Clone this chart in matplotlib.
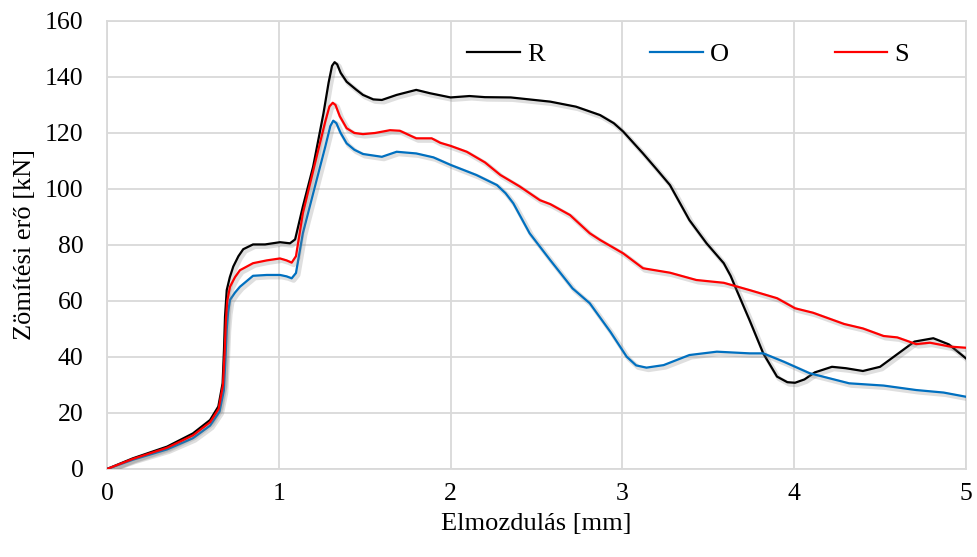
import matplotlib
matplotlib.use("Agg")
import matplotlib.pyplot as plt
import matplotlib.patheffects as pe

plt.rcParams['font.family'] = ['Liberation Serif', 'DejaVu Serif']

# Displacement [mm] and force [kN] for each specimen
R_x = [0, 0.15, 0.35, 0.5, 0.6, 0.648, 0.673, 0.681, 0.687, 0.697, 0.715, 0.735, 0.765, 0.793,
       0.85, 0.92, 1.007, 1.065, 1.095, 1.14, 1.20, 1.26, 1.29, 1.31, 1.325, 1.34, 1.36, 1.395,
       1.45, 1.49, 1.55, 1.60, 1.686, 1.80, 1.88, 2.0, 2.11, 2.2, 2.35, 2.58, 2.73, 2.87, 2.95,
       3.005, 3.12, 3.2, 3.277, 3.39, 3.49, 3.59, 3.63, 3.665, 3.74, 3.82, 3.90, 3.96, 4.005,
       4.06, 4.12, 4.22, 4.30, 4.40, 4.5, 4.6, 4.7, 4.81, 4.9, 5.0]
R_y = [0, 3.8, 8, 12.7, 17.5, 22.3, 30.6, 42.5, 54.4, 63.9, 68.5, 72.3, 76, 78.5,
       80.2, 80.2, 81.0, 80.6, 82, 93.7, 108, 127, 138, 144, 145.3, 144.5, 141.5, 138.3,
       135.5, 133.6, 132, 131.8, 133.6, 135.4, 134.2, 132.7, 133.2, 132.8, 132.7, 131.2, 129.4, 126.4, 123.5,
       120.5, 112.7, 107, 101.4, 88.9, 80.6, 73.5, 69, 63.9, 53.2, 41.3, 33, 31, 30.8,
       32, 34.5, 36.5, 36, 35, 36.5, 41, 45.5, 46.7, 44.5, 39.5]

O_x = [0, 0.15, 0.35, 0.5, 0.6, 0.655, 0.68, 0.69, 0.697, 0.705, 0.716, 0.745, 0.774, 0.85,
       0.93, 1.007, 1.045, 1.075, 1.10, 1.14, 1.22, 1.27, 1.30, 1.317, 1.335, 1.36, 1.395, 1.44,
       1.49, 1.60, 1.686, 1.80, 1.90, 2.0, 2.15, 2.27, 2.32, 2.365, 2.46, 2.58, 2.71, 2.81, 2.93,
       3.025, 3.08, 3.14, 3.24, 3.39, 3.55, 3.74, 3.82, 3.94, 4.09, 4.32, 4.52, 4.71, 4.87, 5.0]
O_y = [0, 3.3, 7, 11, 15.5, 20.5, 28, 40, 50, 56, 60.4, 63, 65.1, 69,
       69.3, 69.3, 68.8, 68.1, 70, 84.2, 103.2, 115, 122.5, 124.4, 123.5, 120, 116.3, 114,
       112.5, 111.5, 113.3, 112.7, 111.3, 108.6, 105, 101.4, 98.5, 94.9, 84.2, 74.6, 64.5, 59.2, 49,
       40.1, 37, 36.2, 37.1, 40.7, 41.9, 41.3, 41.3, 38.3, 34.2, 30.6, 29.8, 28.2, 27.3, 25.8]

S_x = [0, 0.15, 0.35, 0.5, 0.6, 0.65, 0.675, 0.685, 0.692, 0.70, 0.716, 0.745, 0.774, 0.85,
       0.93, 1.007, 1.045, 1.075, 1.10, 1.14, 1.22, 1.27, 1.295, 1.314, 1.33, 1.355, 1.395, 1.44,
       1.49, 1.56, 1.647, 1.705, 1.75, 1.80, 1.89, 1.94, 2.0, 2.094, 2.2, 2.29, 2.4, 2.52, 2.58,
       2.695, 2.81, 2.87, 3.005, 3.12, 3.277, 3.43, 3.59, 3.74, 3.90, 4.005, 4.11, 4.29, 4.40,
       4.52, 4.60, 4.71, 4.79, 4.91, 5.0]
S_y = [0, 3.6, 7.6, 12, 16.7, 21.5, 30, 42, 53, 60, 65.1, 68.5, 71, 73.5,
       74.5, 75.2, 74.5, 73.7, 76, 91.3, 111.5, 124, 129.5, 130.8, 130, 126, 121.7, 120,
       119.6, 120, 121, 120.8, 119.5, 118.1, 118.1, 116.5, 115.4, 113.3, 109.5, 105, 101, 96, 94.6,
       90.7, 84.2, 81.8, 77, 71.7, 70.1, 67.5, 66.5, 63.9, 61, 57.4, 55.8, 51.8, 50.2,
       47.5, 47, 44.6, 45.1, 43.7, 43.3]

series = [("R", R_x, R_y, "#000000"),
          ("O", O_x, O_y, "#0070C0"),
          ("S", S_x, S_y, "#FF0000")]

x_ticks = [0, 1, 2, 3, 4, 5]
y_ticks = [0, 20, 40, 60, 80, 100, 120, 140, 160]

fig = plt.figure(figsize=(9.78, 5.57), dpi=100)
ax = fig.add_axes([0.1094, 0.158, 0.8783, 0.8043])

shadow = [pe.SimpleLineShadow(offset=(1.5, -1.5), shadow_color="0.5", alpha=0.25, linewidth=3.5),
          pe.Normal()]
for name, xs, ys, col in series:
    ax.plot(xs, ys, color=col, lw=1.6, label=name, path_effects=shadow,
            solid_joinstyle="round", zorder=3)

ax.set_xlim(0, 5)
ax.set_ylim(0, 160)
ax.set_xticks(x_ticks)
ax.set_yticks(y_ticks)
ax.grid(True, color="#d9d9d9", lw=1.3, zorder=0)
ax.set_axisbelow(True)
for s in ax.spines.values():
    s.set_color("#d9d9d9")
    s.set_linewidth(1.3)
ax.tick_params(length=0, labelsize=18.5, colors="black")
ax.tick_params(axis="y", pad=17)
ax.tick_params(axis="x", pad=10)

ax.set_xlabel("Elmozdulás [mm]", fontsize=19, labelpad=6)
ax.set_ylabel("Zömítési erő [kN]", fontsize=19, labelpad=6)

leg = ax.legend(loc="center left", bbox_to_anchor=(0.419, 0.926), ncol=3, frameon=False,
                fontsize=19, handlelength=2.0, handletextpad=0.27, columnspacing=4.0,
                borderpad=0, borderaxespad=0)
for h in leg.legend_handles:
    h.set_path_effects([])

fig.savefig("out.png", dpi=100)
